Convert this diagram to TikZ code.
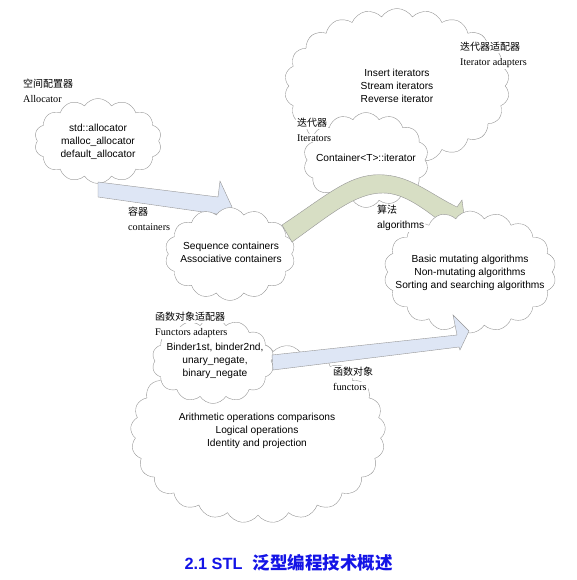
\documentclass[tikz,border=0pt]{standalone}
\usepackage{fontspec}
\setmainfont{Liberation Sans}
\newfontfamily\seriffont{Liberation Serif}
\newfontfamily\cjk{Noto Sans CJK SC}
\usetikzlibrary{shapes.symbols}

\begin{document}
\begin{tikzpicture}[x=1pt,y=-1pt,
    puffy/.style={cloud, draw=linegray, fill=white, cloud ignores aspect,
      cloud puff arc=115, inner sep=0pt},
    cloudtext/.style={align=center, inner sep=0pt, font=\fontsize{10.2}{12.8}\selectfont},
    cnlabel/.style={anchor=west, inner sep=1pt, fill=white, font=\cjk\fontsize{10}{11}\selectfont},
    enlabel/.style={anchor=west, inner sep=1pt, fill=white, font=\seriffont\fontsize{10.2}{12}\selectfont},
    blockarrow/.style={draw=linegray, line join=miter}]

        % Define colors
        \definecolor{linegray}{RGB}{150,150,150}
        \definecolor{arrowblue}{RGB}{222,230,245}
        \definecolor{arrowgreen}{RGB}{215,222,196}
        \definecolor{titleblue}{RGB}{20,20,230}

        \useasboundingbox (0,0) rectangle (576,580);

        % Iterator clouds
        \node[puffy, cloud puffs=22, minimum width=225pt, minimum height=155pt] (adapt) at (397,86) {};
        \node[cloudtext] (adaptTxt) at (adapt) {Insert iterators\\Stream iterators\\Reverse iterator};
        \node[puffy, cloud puffs=14, minimum width=125pt, minimum height=95pt] (iter) at (366,160) {};
        \node[cloudtext] (iterTxt) at (366,158) {Container<T>::iterator};

        % Allocator
        \node[puffy, cloud puffs=14, minimum width=127pt, minimum height=85pt] (alloc) at (98,141) {};
        \node[cloudtext] (allocTxt) at (98,142) {std::allocator\\malloc\_allocator\\default\_allocator};

        % Allocator -> containers
        \filldraw[blockarrow, fill=arrowblue] (98,182) -- (218,197) -- (220,181) -- (232,207)
            -- (213,228) -- (217,214) -- (98,197) -- cycle;

        % Containers
        \node[puffy, cloud puffs=14, minimum width=130pt, minimum height=93pt] (cont) at (230,254) {};
        \node[cloudtext] (contTxt) at (231,252) {Sequence containers\\Associative containers};

        % Containers -> algorithms
        \filldraw[blockarrow, fill=arrowgreen] (282,225) .. controls (330,193) and (352,172) .. (385,175)
            .. controls (412,177) and (432,195) .. (457,207) -- (462,200) -- (466,230) -- (438,233)
            -- (444,224) .. controls (425,210) and (405,193) .. (383,193)
            .. controls (355,193) and (330,215) .. (292,242) -- cycle;

        % Algorithms
        \node[puffy, cloud puffs=18, minimum width=172pt, minimum height=122pt] (algo) at (470,272) {};
        \node[cloudtext] (algoTxt) at (470,273)
            {Basic mutating algorithms\\Non-mutating algorithms\\Sorting and searching algorithms};

        % Functor clouds
        \node[puffy, cloud puffs=25, minimum width=255pt, minimum height=180pt] (func) at (258,433) {};
        \node[cloudtext] (funcTxt) at (257,431)
            {Arithmetic operations comparisons\\Logical operations\\Identity and projection};
        \node[puffy, cloud puffs=14, minimum width=122pt, minimum height=85pt] (fadapt) at (213,361) {};
        \node[cloudtext] (fadaptTxt) at (215,361) {Binder1st, binder2nd,\\unary\_negate,\\binary\_negate};

        % Functors -> algorithms
        \filldraw[blockarrow, fill=arrowblue] (272,355) -- (457,335) -- (453,315) -- (469,331)
            -- (460,350) -- (459,347) -- (273,370) -- cycle;

        % Labels
        \node[cnlabel] (allocCn) at (22,84) {空间配置器};
        \node[enlabel] (allocEn) at (22,99) {Allocator};
        \node[cnlabel] (contCn) at (127,212) {容器};
        \node[enlabel] (contEn) at (127,227) {containers};
        \node[cnlabel] (iterCn) at (296,123) {迭代器};
        \node[enlabel] (iterEn) at (296,138) {Iterators};
        \node[cnlabel] (adaptCn) at (459,47) {迭代器适配器};
        \node[enlabel] (adaptEn) at (459,63) {Iterator adapters};
        \node[cnlabel] (algoCn) at (376,210) {算法};
        \node[anchor=west, inner sep=1pt, fill=white, font=\fontsize{10.2}{12}\selectfont] (algoEn) at (376,226) {algorithms};
        \node[cnlabel] (fadaptCn) at (154,317) {函数对象适配器};
        \node[enlabel] (fadaptEn) at (154,333) {Functors adapters};
        \node[cnlabel] (funcCn) at (332,372) {函数对象};
        \node[enlabel] (funcEn) at (332,387) {functors};

        % Title
        \node[anchor=west, text=titleblue, font=\bfseries\fontsize{16.3}{20}\selectfont] (title) at (181,563)
            {2.1 STL\hspace{10pt}{\cjk\fontsize{17.5}{20}\selectfont 泛型编程技术概述}};

    \end{tikzpicture}
\end{document}
